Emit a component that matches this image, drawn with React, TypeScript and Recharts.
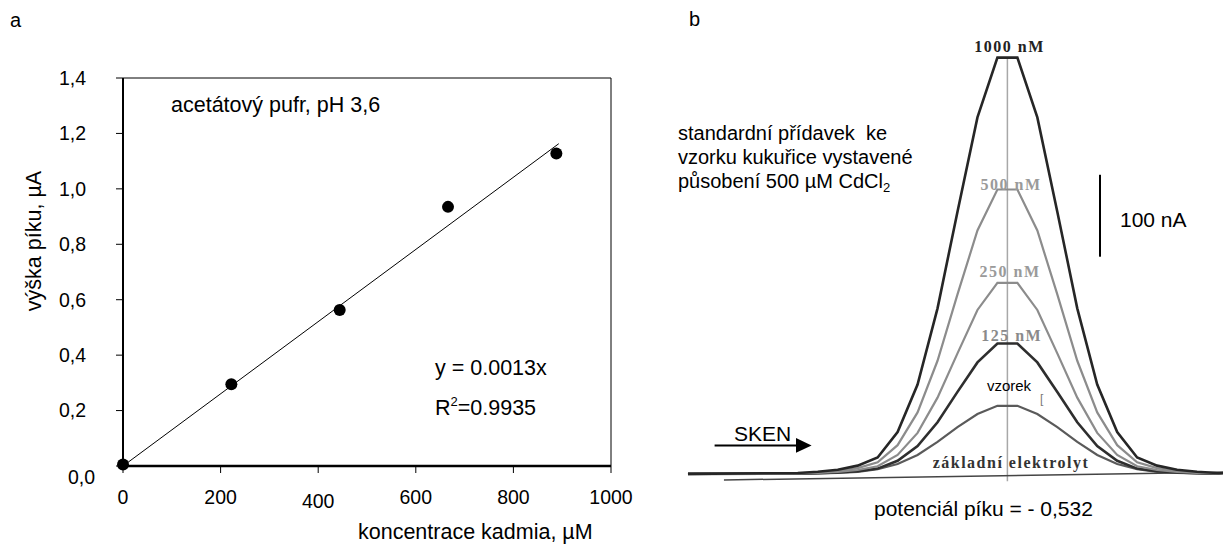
import React from 'react';
import {
  ComposedChart, LineChart, Line, Scatter, XAxis, YAxis, ReferenceLine,
} from 'recharts';

// ---- panel a: calibration ----
const concentration = [0, 222, 444, 666, 888];
const peakHeight = [0.005, 0.295, 0.563, 0.935, 1.128];
const fitX = [0, 893];
const fitY = [0, 1.163];
const xTicks = [0, 200, 400, 600, 800, 1000];
const yTicks = [0, 0.2, 0.4, 0.6, 0.8, 1.0, 1.2, 1.4];

// ---- panel b: voltammograms (potential mV, current nA) ----
const potential = [-692, -637, -627, -617, -607, -597, -587, -577, -567, -557, -547, -537,
  -527, -517, -507, -497, -487, -477, -467, -457, -447, -437, -427, -424];
const cd1000 = [0, 1, 2.5, 5, 10, 20, 51, 109, 202, 320, 435, 508, 508, 435, 320, 202, 109, 51, 20, 10, 5, 2.5, 1, 1];
const cd500 = [0, 0.7, 1.7, 3.5, 7, 14, 35, 75, 138, 219, 297, 347, 347, 297, 219, 138, 75, 35, 14, 7, 3.5, 1.7, 0.7, 1];
const cd250 = [0, 0.5, 1.2, 2.3, 4.7, 9.3, 23, 50, 93, 147, 200, 233, 233, 200, 147, 93, 50, 23, 9.3, 4.7, 2.3, 1.2, 0.5, 1];
const cd125 = [0, 0.3, 0.8, 1.6, 3.2, 6.4, 16, 34, 63, 100, 136, 159, 159, 136, 100, 63, 34, 16, 6.4, 3.2, 1.6, 0.8, 0.3, 1];
const sampleCurve = [0, 0.2, 0.4, 1, 2.5, 5.7, 12, 23, 39, 57, 73, 83, 83, 73, 57, 39, 23, 12, 5.7, 2.5, 1, 0.4, 0.2, 1];
const electrolyteE = [-674, -424];
const electrolyteI = [-7.5, 2];

const points = concentration.map((x, i) => ({ x, y: peakHeight[i] }));
const fit = fitX.map((x, i) => ({ x, y: fitY[i] }));
const curves = potential.map((E, i) => ({
  E, a: cd1000[i], b: cd500[i], c: cd250[i], d: cd125[i], s: sampleCurve[i],
}));
const electrolyte = electrolyteE.map((E, i) => ({ E, z: electrolyteI[i] }));

const SANS = '"Liberation Sans", Arial, sans-serif';
const SERIF = '"Liberation Serif", "Times New Roman", serif';

const fmt = (v: number) => v.toFixed(1).replace('.', ',');

const YTick = (props: any) => {
  const { x, y, payload } = props;
  const zero = payload.value === 0;
  return (
    <text x={x + (zero ? 9 : 0)} y={y + (zero ? 11 : 0)} dy="0.355em" textAnchor="end"
      fontFamily={SANS} fontSize={19.5} fill="#000">{fmt(payload.value)}</text>
  );
};

const XTick = (props: any) => {
  const { x, y, payload } = props;
  const extra = payload.value === 400 ? 4 : 0;
  return (
    <text x={x} y={y + extra} dy="0.71em" textAnchor="middle"
      fontFamily={SANS} fontSize={19.5} fill="#000">{payload.value}</text>
  );
};

export default function App() {
  return (
    <div style={{ position: 'absolute', left: 0, top: 0, width: 1223, height: 549, background: '#fff' }}>
      <div style={{ position: 'absolute', left: 0, top: 0 }}>
        <ComposedChart width={660} height={549} margin={{ top: 78, right: 49, bottom: 43, left: 0 }}>
          <XAxis type="number" dataKey="x" domain={[0, 1000]} ticks={xTicks} height={40}
            axisLine={{ stroke: '#000', strokeWidth: 2.5 }} tickLine={{ stroke: '#000' }}
            tickSize={7} tickMargin={17} tick={<XTick />} interval={0} />
          <YAxis type="number" dataKey="y" domain={[0, 1.4]} ticks={yTicks} width={123}
            axisLine={{ stroke: '#000', strokeWidth: 2 }} tickLine={{ stroke: '#000' }}
            tickSize={7} tickMargin={30} tick={<YTick />} interval={0} />
          <ReferenceLine y={1.4} stroke="#000" strokeWidth={1} />
          <ReferenceLine x={1000} stroke="#000" strokeWidth={1} />
          <Line data={fit} dataKey="y" stroke="#000" strokeWidth={1} dot={false}
            isAnimationActive={false} />
          <Scatter data={points} dataKey="y" fill="#000" isAnimationActive={false}
            shape={(p: any) => <circle cx={p.cx} cy={p.cy} r={6} fill="#000" />} />
        </ComposedChart>
      </div>
      <div style={{ position: 'absolute', left: 680, top: 0 }}>
        <LineChart width={543} height={549} data={curves} margin={{ top: 15, right: 0, bottom: 26, left: 0 }}>
          <XAxis hide type="number" dataKey="E" domain={[-696, -424]} allowDataOverflow />
          <YAxis hide type="number" domain={[-60, 560]} allowDataOverflow />
          <ReferenceLine segment={[{ x: -532, y: -9 }, { x: -532, y: 508 }]} stroke="#a8a8a8" strokeWidth={1.5} />
          <ReferenceLine segment={[{ x: -485.6, y: 265 }, { x: -485.6, y: 365 }]} stroke="#000" strokeWidth={2} />
          <Line data={electrolyte} dataKey="z" stroke="#444" strokeWidth={1.5} dot={false} isAnimationActive={false} />
          <Line dataKey="s" stroke="#5a5a5a" strokeWidth={2.2} dot={false} isAnimationActive={false} />
          <Line dataKey="d" stroke="#2e2e2e" strokeWidth={2.6} dot={false} isAnimationActive={false} />
          <Line dataKey="c" stroke="#8c8c8c" strokeWidth={2.2} dot={false} isAnimationActive={false} />
          <Line dataKey="b" stroke="#8c8c8c" strokeWidth={2.2} dot={false} isAnimationActive={false} />
          <Line dataKey="a" stroke="#262626" strokeWidth={2.6} dot={false} isAnimationActive={false} />
        </LineChart>
      </div>
      <svg width={1223} height={549} style={{ position: 'absolute', left: 0, top: 0, pointerEvents: 'none' }}>
        <g fontFamily={SANS} fontSize={21.5} fill="#000">
          <text x={10} y={27} fontSize={20}>a</text>
          <text x={171} y={112}>acetátový pufr, pH 3,6</text>
          <text x={435} y={375}>y = 0.0013x</text>
          <text x={435} y={415}>R<tspan fontSize={13} dy={-9}>2</tspan><tspan dy={9}>=0.9935</tspan></text>
          <text x={358} y={539}>koncentrace kadmia, µM</text>
          <text x={41} y={241} textAnchor="middle" transform="rotate(-90 41 241)">výška píku, µA</text>
        </g>
        <g fontFamily={SANS} fontSize={20} fill="#000">
          <text x={689} y={26}>b</text>
          <text x={678} y={140} xmlSpace="preserve">standardní přídavek  ke</text>
          <text x={678} y={164}>vzorku kukuřice vystavené</text>
          <text x={678} y={188}>působení 500 µM CdCl<tspan fontSize={13} dy={4}>2</tspan></text>
          <text x={1120} y={227} fontSize={21}>100 nA</text>
          <text x={734} y={441} fontSize={21}>SKEN</text>
          <text x={874} y={516} fontSize={21}>potenciál píku = - 0,532</text>
          <text x={1009} y={391} fontSize={15} textAnchor="middle">vzorek</text>
          <text x={1040} y={403} fontSize={12} fill="#777">[</text>
        </g>
        <line x1={714.6} y1={445.4} x2={797} y2={445.4} stroke="#000" strokeWidth={2} />
        <polygon points="796,438 811.6,445.4 796,452.8" fill="#000" />
        <g fontFamily={SERIF} fontSize={16} fontWeight="bold" letterSpacing={1.5} textAnchor="middle">
          <text x={1009.5} y={52} fill="#222">1000 nM</text>
          <text x={1011} y={189.5} fill="#9a9a9a">500 nM</text>
          <text x={1010} y={276.5} fill="#9a9a9a">250 nM</text>
          <text x={1011.7} y={340.5} fill="#8a8a8a">125 nM</text>
          <text x={1011} y={468} fill="#333">základní elektrolyt</text>
        </g>
      </svg>
    </div>
  );
}
